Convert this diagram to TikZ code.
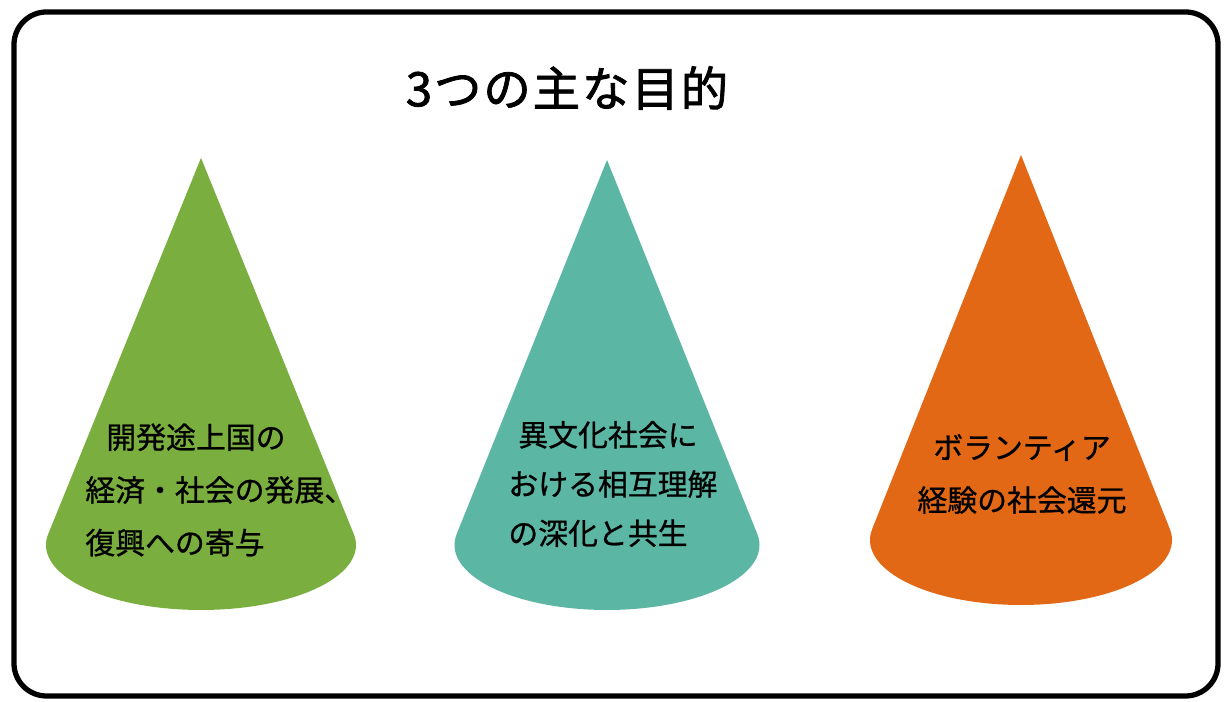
\documentclass[tikz,border=0pt]{standalone}
\usepackage{fontspec}
\setmainfont{Noto Sans CJK JP}
\newfontfamily\titlefont[FakeBold=1.6, LetterSpace=4]{Noto Sans CJK JP}
\newfontfamily\bodyfont[FakeBold=0.8]{Noto Sans CJK JP}
\usetikzlibrary{calc}
\definecolor{cgreen}{RGB}{122,174,62}
\definecolor{cteal}{RGB}{92,182,164}
\definecolor{corange}{RGB}{226,104,22}
\tikzset{
  frame/.style={draw=black, line width=3pt, rounded corners=0.65cm},
  conetext/.style={inner sep=0pt, font=\bodyfont\fontsize{17pt}{30pt}\selectfont},
  titletext/.style={inner sep=0pt, font=\titlefont\fontsize{27pt}{32pt}\selectfont}
}
\newcommand{\mycone}[6]{%
  % #1 center x, #2 center y, #3 apex y, #4 rx, #5 ry, #6 color
  \fill[#6] (#1,#3) -- ($(#1,#2)+(170.3:#4 and #5)$)
    arc[start angle=170.3, end angle=369.7, x radius=#4, y radius=#5] -- cycle;
}
\begin{document}
\begin{tikzpicture}
\useasboundingbox (0,0) rectangle (24.52,14.04);
\fill[white] (0,0) rectangle (24.52,14.04);
\draw[frame] (0.28,13.80) rectangle (24.36,0.12);
\node[titletext] (title) at (11.34,12.28) {3つの主な目的};
\mycone{4.02}{3.14}{10.88}{3.1cm}{1.3cm}{cgreen}
\mycone{12.14}{3.14}{10.84}{3.05cm}{1.3cm}{cteal}
\mycone{20.42}{3.24}{10.94}{3.02cm}{1.3cm}{corange}
\node[conetext, align=left, anchor=west] (t1) at (1.70,4.24)
  {\hspace{0.42cm}開発途上国の\\経済・社会の発展、\\復興への寄与};
\node[conetext, align=left, anchor=west, font=\bodyfont\fontsize{17pt}{28pt}\selectfont] (t2) at (10.16,4.36)
  {\hspace{0.2cm}異文化社会に\\おける相互理解\\の深化と共生};
\node[conetext, align=center] (t3) at (20.44,4.56)
  {ボランティア\\経験の社会還元};
\end{tikzpicture}
\end{document}
